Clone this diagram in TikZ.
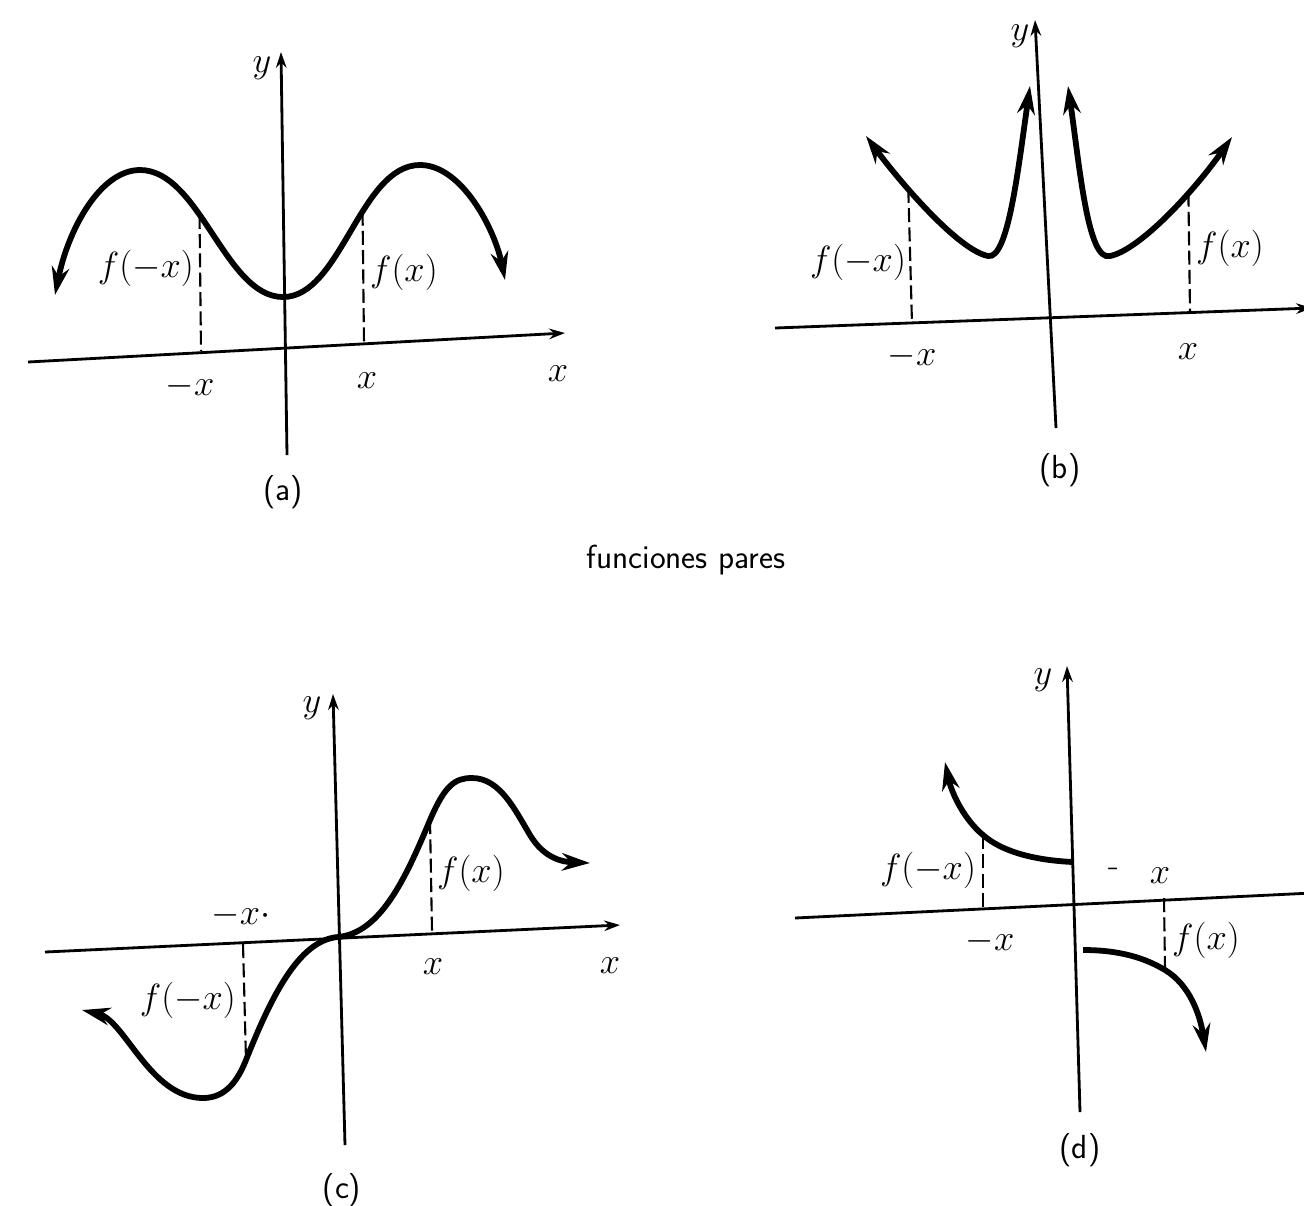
\documentclass[tikz,border=0pt]{standalone}
\usetikzlibrary{arrows.meta}

\begin{document}
\begin{tikzpicture}[x=0.02cm,y=-0.02cm,
  axis/.style={line width=1.6pt,>={Stealth[length=9pt,width=6pt]}},
  graph/.style={line width=3.3pt,>={Stealth[length=16pt,width=10pt]}},
  guide/.style={line width=1.2pt,dash pattern=on 8pt off 3pt},
  lbl/.style={font=\fontsize{20}{24}\selectfont,inner sep=1pt},
  captext/.style={font=\fontsize{19}{22}\selectfont\sffamily}]
  \useasboundingbox (0,0) rectangle (1304,1205);

  % (a) even function, two humps
  \coordinate (a-xl) at (28,362);
  \coordinate (a-xr) at (565,333);
  \coordinate (a-yt) at (281,52);
  \coordinate (a-yb) at (287,455);
  \draw[axis,->] (a-xl) -- (a-xr);
  \draw[axis,->] (a-yb) -- (a-yt);
  \draw[graph,<->] (55,295) .. controls (68,230) and (100,170) .. (140,170)
    .. controls (200,170) and (225,297) .. (283,297) coordinate[pos=0.4] (a-m1)
    .. controls (341,297) and (360,165) .. (420,165) coordinate[pos=0.6] (a-p1)
    .. controls (462,165) and (495,230) .. (505,280);
  \coordinate (a-m0) at (201,351);
  \coordinate (a-p0) at (364,344);
  \draw[guide] (a-m1) -- (a-m0);
  \draw[guide] (a-p1) -- (a-p0);
  \node[lbl] (a-y) at (262,68) {$y$};
  \node[lbl] (a-x) at (558,374) {$x$};
  \node[lbl] (a-mx) at (190,386) {$-x$};
  \node[lbl] (a-px) at (367,381) {$x$};
  \node[lbl,anchor=east] (a-fmx) at (196,268) {$f(-x)$};
  \node[lbl,anchor=west] (a-fx) at (368,272) {$f(x)$};
  \node[captext] (a-cap) at (283,492) {(a)};

  % (b) even function, two branches
  \coordinate (b-xl) at (775,328);
  \coordinate (b-xr) at (1312,308);
  \coordinate (b-yt) at (1035,20);
  \coordinate (b-yb) at (1056,428);
  \draw[axis,->] (b-xl) -- (b-xr);
  \draw[axis,->] (b-yb) -- (b-yt);
  \draw[graph,<->] (866,136) .. controls (900,182) and (958,250) .. (988,256)
    coordinate[pos=0.35] (b-m1)
    .. controls (1008,260) and (1018,170) .. (1030,86);
  \draw[graph,<->] (1068,86) .. controls (1080,170) and (1088,262) .. (1110,256)
    .. controls (1140,250) and (1195,190) .. (1232,137) coordinate[pos=0.65] (b-p1);
  \coordinate (b-m0) at (912,324);
  \coordinate (b-p0) at (1190,313);
  \draw[guide] (b-m1) -- (b-m0);
  \draw[guide] (b-p1) -- (b-p0);
  \node[lbl] (b-y) at (1020,36) {$y$};
  \node[lbl] (b-mx) at (912,356) {$-x$};
  \node[lbl] (b-px) at (1188,352) {$x$};
  \node[lbl,anchor=east] (b-fmx) at (908,262) {$f(-x)$};
  \node[lbl,anchor=west] (b-fx) at (1194,248) {$f(x)$};
  \node[captext] (b-cap) at (1060,470) {(b)};

  \node[captext] (title) at (686,560) {funciones pares};

  % (c) odd function through the origin
  \coordinate (c-xl) at (45,952);
  \coordinate (c-xr) at (620,925);
  \coordinate (c-yt) at (333,694);
  \coordinate (c-yb) at (345,1145);
  \coordinate (c-m1) at (246,1060);
  \coordinate (c-p1) at (430,820);
  \draw[axis,->] (c-xl) -- (c-xr);
  \draw[axis,->] (c-yb) -- (c-yt);
  \draw[graph,<->] (82,1010) .. controls (125,1020) and (150,1098) .. (203,1098)
    .. controls (226,1098) and (238,1080) .. (c-m1)
    .. controls (270,1000) and (298,940) .. (338,937)
    .. controls (380,933) and (405,880) .. (c-p1)
    .. controls (445,785) and (455,778) .. (472,778)
    .. controls (500,778) and (515,810) .. (530,835)
    .. controls (545,860) and (565,862) .. (590,863);
  \coordinate (c-p0) at (432,931);
  \coordinate (c-m0) at (243,944);
  \draw[guide] (c-p1) -- (c-p0);
  \draw[guide] (c-m0) -- (c-m1);
  \node[lbl] (c-y) at (312,708) {$y$};
  \node[lbl] (c-mx) at (241,915) {$-x\cdot$};
  \node[lbl] (c-px) at (433,967) {$x$};
  \node[lbl] (c-x) at (610,966) {$x$};
  \node[lbl,anchor=east] (c-fmx) at (238,1000) {$f(-x)$};
  \node[lbl,anchor=west] (c-fx) at (435,873) {$f(x)$};
  \node[captext] (c-cap) at (342,1190) {(c)};

  % (d) odd function with a jump at the origin
  \coordinate (d-xl) at (795,918);
  \coordinate (d-xr) at (1312,893);
  \coordinate (d-yt) at (1067,666);
  \coordinate (d-yb) at (1080,1112);
  \coordinate (d-m1) at (983,835);
  \coordinate (d-p1) at (1165,970);
  \draw[axis] (d-xl) -- (d-xr);
  \draw[axis,->] (d-yb) -- (d-yt);
  \draw[graph,->] (1073,862) .. controls (1030,860) and (1000,850) .. (d-m1)
    .. controls (965,820) and (952,795) .. (945,762);
  \draw[graph,->] (1083,950) .. controls (1120,950) and (1145,958) .. (d-p1)
    .. controls (1190,985) and (1200,1015) .. (1206,1052);
  \coordinate (d-m0) at (983,909);
  \coordinate (d-p0) at (1164,898);
  \draw[guide] (d-m1) -- (d-m0);
  \draw[guide] (d-p0) -- (d-p1);
  \node[lbl] (d-y) at (1043,680) {$y$};
  \node[lbl] (d-mx) at (990,941) {$-x$};
  \node[lbl] (d-px) at (1160,876) {$x$};
  \node[lbl] (d-dot) at (1114,872) {-};
  \node[lbl,anchor=east] (d-fmx) at (978,870) {$f(-x)$};
  \node[lbl,anchor=west] (d-fx) at (1170,940) {$f(x)$};
  \node[captext] (d-cap) at (1080,1150) {(d)};
\end{tikzpicture}
\end{document}
